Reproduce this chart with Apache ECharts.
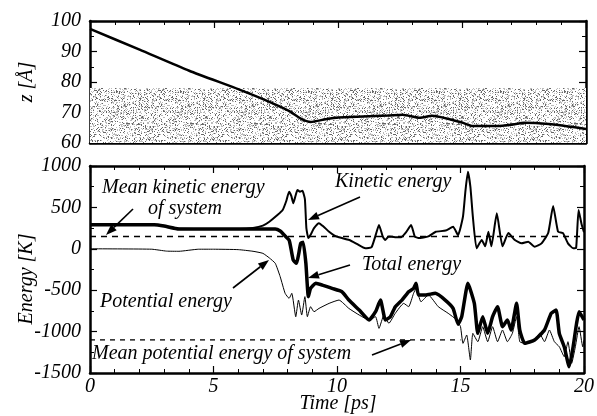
<!DOCTYPE html>
<html><head><meta charset="utf-8">
<script src="https://cdn.jsdelivr.net/npm/echarts@6/dist/echarts.min.js"></script>
<style>html,body{margin:0;padding:0;background:#fff}#c{width:597px;height:416px}</style>
</head><body><div id="c"></div>
<script>
// ---- data ----
const zTime = [0, 2, 4, 6, 7, 8, 8.5, 8.9, 9.5, 10, 11, 12, 12.6, 13.3, 13.8, 14.5, 15, 15.4, 16.4, 17, 17.5, 18.5, 19.4, 20];
const zVal  = [97.4, 90.6, 83.7, 77.6, 74.3, 70.6, 68.0, 66.9, 67.8, 68.4, 68.7, 69.0, 69.3, 68.3, 68.9, 67.8, 66.7, 65.6, 65.6, 66.0, 66.6, 66.2, 65.3, 64.6];
const shadeRange = [60, 78];

const kinTime = [0, 2.5, 3.0, 3.6, 5, 6.05, 6.6, 7.0, 7.26, 7.6, 7.8, 7.95, 8.06, 8.15, 8.23, 8.32, 8.4, 8.5, 8.6, 8.7, 8.76, 8.84, 8.95, 9.07, 9.27, 9.45, 9.68, 9.9, 10.08, 10.5, 10.8, 11.15, 11.4, 11.55, 11.7, 11.85, 11.95, 12.1, 12.35, 12.6, 12.8, 13.0, 13.15, 13.3, 13.7, 14.0, 14.4, 14.7, 14.9, 15.1, 15.2, 15.3, 15.4, 15.5, 15.65, 15.86, 16.0, 16.13, 16.25, 16.47, 16.7, 16.94, 17.2, 17.47, 17.74, 18.0, 18.28, 18.55, 18.75, 18.95, 19.15, 19.35, 19.56, 19.68, 19.78, 19.9, 20];
const kinVal  = [290, 290, 275, 242, 240, 240, 252, 280, 327, 410, 468, 580, 690, 640, 550, 640, 710, 690, 700, 600, 250, 130, 180, 250, 310, 270, 206, 160, 140, 106, 60, 6, 20, 150, 287, 150, 106, 150, 140, 140, 200, 287, 150, 130, 150, 206, 220, 267, 165, 388, 700, 931, 750, 388, 6, 106, 30, 206, 30, 428, 30, 190, 106, 66, 86, 26, 66, 190, 517, 206, 190, 66, 6, 10, 470, 300, 200];

const totTime = [0, 2.6, 3.0, 3.6, 7.5, 7.7, 7.86, 8.06, 8.15, 8.23, 8.36, 8.45, 8.53, 8.63, 8.74, 8.84, 8.93, 9.14, 9.4, 9.8, 10.2, 10.48, 10.9, 11.3, 11.56, 11.76, 11.96, 12.16, 12.36, 12.63, 12.9, 13.1, 13.2, 13.3, 13.58, 13.98, 14.38, 14.7, 14.9, 15.05, 15.3, 15.56, 15.7, 15.9, 16.1, 16.3, 16.5, 16.7, 16.9, 17.05, 17.27, 17.4, 17.6, 18.0, 18.4, 18.67, 18.87, 19.0, 19.2, 19.4, 19.56, 19.7, 19.8, 20];
const totVal  = [290, 290, 275, 240, 239, 215, 167, 106, -20, -136, -175, -60, 66, 80, -175, -578, -478, -417, -438, -478, -518, -619, -740, -860, -760, -619, -860, -820, -699, -619, -518, -478, -417, -558, -558, -538, -619, -720, -910, -820, -417, -659, -1021, -820, -1021, -820, -699, -941, -860, -981, -659, -981, -1142, -1102, -981, -779, -740, -1021, -1183, -1424, -1183, -900, -760, -860];

const potTime = [0, 2.5, 3.1, 3.6, 4.4, 5, 6, 6.6, 7.0, 7.26, 7.5, 7.7, 7.9, 8.06, 8.17, 8.33, 8.44, 8.57, 8.7, 8.8, 8.93, 9.07, 9.27, 9.68, 10.08, 10.48, 10.9, 11.3, 11.56, 11.7, 11.9, 12.1, 12.36, 12.7, 12.9, 13.1, 13.2, 13.4, 13.7, 14.1, 14.5, 14.85, 15.0, 15.1, 15.25, 15.4, 15.5, 15.7, 15.9, 16.1, 16.3, 16.5, 16.7, 16.9, 17.1, 17.27, 17.4, 17.6, 18.0, 18.2, 18.4, 18.6, 18.8, 19.0, 19.2, 19.35, 19.5, 19.65, 19.8, 19.95, 20];
const potVal  = [0, -5, -28, -30, -5, -5, -10, -30, -55, -110, -175, -337, -538, -598, -538, -820, -619, -800, -578, -820, -699, -760, -720, -659, -619, -720, -800, -860, -820, -961, -800, -900, -779, -659, -699, -538, -478, -640, -558, -699, -779, -860, -941, -1142, -1041, -1343, -1021, -1122, -941, -1122, -941, -1122, -981, -1122, -1021, -820, -1122, -1142, -1102, -1021, -1122, -981, -1122, -1183, -1303, -1122, -1383, -1183, -941, -1183, -1100];

const meanKinetic = 150;
const meanPotential = -1100;
const meanPotentialEnd = 15;

const zTicks = {min: 60, max: 100, interval: 10};
const eTicks = {min: -1500, max: 1000, interval: 500};
const tTicks = {min: 0, max: 20, interval: 5};

const labels = {
  z: 'z [Å]', energy: 'Energy [K]', time: 'Time [ps]',
  meanKin1: 'Mean kinetic energy', meanKin2: 'of system',
  kin: 'Kinetic energy', tot: 'Total energy', pot: 'Potential energy',
  meanPot: 'Mean potential energy of system'
};

// ---- helpers ----
const pair = (ts, vs) => ts.map((t, i) => [t, vs[i]]);
const FONT = 'Liberation Serif';
const txt = {fontFamily: FONT, fontStyle: 'italic', fontSize: 20, color: '#000'};

function stipple() {
  const N = 64;
  const c = document.createElement('canvas');
  c.width = N; c.height = N;
  const g = c.getContext('2d');
  g.fillStyle = '#ffffff'; g.fillRect(0, 0, N, N);
  let s = 12345;
  const next = () => { s = (s * 1103515245 + 12345) & 0x7fffffff; return s / 0x7fffffff; };
  for (let i = 0; i < N; i++) for (let j = 0; j < N; j++) {
    const r = next();
    if (r < 0.12) { g.fillStyle = '#666'; g.fillRect(i, j, 1, 1); }
    else if (r < 0.30) { g.fillStyle = '#bbb'; g.fillRect(i, j, 1, 1); }
  }
  return c;
}

const fmt = v => String(v);

function xAxis(grid, pos, showLabel) {
  return {type: 'value', gridIndex: grid, position: pos, min: tTicks.min, max: tTicks.max, interval: tTicks.interval,
    axisLine: {show: true, onZero: false, lineStyle: {color: '#000', width: 2.5}},
    axisTick: {show: true, inside: true, length: 7, lineStyle: {color: '#000', width: 1.2}},
    minorTick: {show: true, splitNumber: 5, length: 4, lineStyle: {color: '#000', width: 1}},
    splitLine: {show: false},
    axisLabel: Object.assign({show: showLabel, margin: 4, formatter: fmt}, txt)};
}
function yAxis(grid, pos, r, split, showLabel) {
  return {type: 'value', gridIndex: grid, position: pos, min: r.min, max: r.max, interval: r.interval,
    axisLine: {show: true, onZero: false, lineStyle: {color: '#000', width: 2.5}},
    axisTick: {show: true, inside: true, length: 7, lineStyle: {color: '#000', width: 1.2}},
    minorTick: {show: true, splitNumber: split, length: 4, lineStyle: {color: '#000', width: 1}},
    splitLine: {show: false},
    axisLabel: Object.assign({show: showLabel, margin: 9, formatter: fmt}, txt)};
}

function arrow(x1, y1, x2, y2) {
  const a = Math.atan2(y2 - y1, x2 - x1), L = 11, W = 4;
  const bx = x2 - L * Math.cos(a), by = y2 - L * Math.sin(a);
  const px = -Math.sin(a) * W, py = Math.cos(a) * W;
  return [
    {type: 'line', shape: {x1: x1, y1: y1, x2: bx, y2: by}, style: {stroke: '#000', lineWidth: 1.6}, z: 100},
    {type: 'polygon', shape: {points: [[x2, y2], [bx + px, by + py], [bx - px, by - py]]}, style: {fill: '#000'}, z: 100}
  ];
}
function label(text, x, y, align) {
  return {type: 'text', x: x, y: y, z: 100, style: {text: text, font: 'italic 20px "Liberation Serif"', fill: '#000', textAlign: align || 'left', textVerticalAlign: 'middle'}};
}

const chart = echarts.init(document.getElementById('c'), null, {renderer: 'canvas'});
chart.setOption({
  backgroundColor: '#fff',
  animation: false,
  textStyle: {fontFamily: FONT, fontStyle: 'italic'},
  grid: [
    {left: 90, right: 11, top: 21, height: 122},
    {left: 90, right: 11, top: 166, height: 207}
  ],
  xAxis: [xAxis(0, 'bottom', false), xAxis(0, 'top', false), xAxis(1, 'bottom', true), xAxis(1, 'top', false)],
  yAxis: [yAxis(0, 'left', zTicks, 2, true), yAxis(0, 'right', zTicks, 2, false),
          yAxis(1, 'left', eTicks, 2, true), yAxis(1, 'right', eTicks, 2, false)],
  series: [
    {type: 'line', xAxisIndex: 0, yAxisIndex: 0, data: pair(zTime, zVal), showSymbol: false, smooth: 0.2,
      lineStyle: {color: '#000', width: 2.5}, z: 5,
      markArea: {silent: true, itemStyle: {color: {image: stipple(), repeat: 'repeat'}, opacity: 1},
        data: [[{yAxis: shadeRange[0]}, {yAxis: shadeRange[1]}]]}},
    {type: 'line', xAxisIndex: 2, yAxisIndex: 2, data: [[tTicks.min, meanKinetic], [tTicks.max, meanKinetic]], showSymbol: false,
      lineStyle: {color: '#000', width: 1.5, type: [6, 5]}, z: 2},
    {type: 'line', xAxisIndex: 2, yAxisIndex: 2, data: [[tTicks.min, meanPotential], [meanPotentialEnd, meanPotential]], showSymbol: false,
      lineStyle: {color: '#000', width: 1.3, type: [5, 5]}, z: 2},
    {type: 'line', xAxisIndex: 2, yAxisIndex: 2, data: pair(potTime, potVal), showSymbol: false, smooth: 0.15,
      lineStyle: {color: '#000', width: 1}, z: 3},
    {type: 'line', xAxisIndex: 2, yAxisIndex: 2, data: pair(kinTime, kinVal), showSymbol: false, smooth: 0.15,
      lineStyle: {color: '#000', width: 2}, z: 4},
    {type: 'line', xAxisIndex: 2, yAxisIndex: 2, data: pair(totTime, totVal), showSymbol: false, smooth: 0.15,
      lineStyle: {color: '#000', width: 3.5}, z: 5}
  ],
  graphic: [
    {type: 'text', x: 27, y: 82, rotation: Math.PI / 2, z: 100,
      style: {text: labels.z, font: 'italic 20px "Liberation Serif"', fill: '#000', textAlign: 'center', textVerticalAlign: 'middle'}},
    {type: 'text', x: 27, y: 279, rotation: Math.PI / 2, z: 100,
      style: {text: labels.energy, font: 'italic 20px "Liberation Serif"', fill: '#000', textAlign: 'center', textVerticalAlign: 'middle'}},
    label(labels.time, 338, 404, 'center'),
    label(labels.meanKin1, 102, 188),
    label(labels.meanKin2, 148, 209),
    label(labels.kin, 335, 182),
    label(labels.tot, 362, 265),
    label(labels.pot, 100, 302),
    label(labels.meanPot, 92, 354),
    ...arrow(133, 209, 106, 235),
    ...arrow(360, 197, 308, 220),
    ...arrow(350, 265, 308, 278),
    ...arrow(233, 288, 269, 260),
    ...arrow(372, 355, 411, 340)
  ]
});
</script></body></html>
